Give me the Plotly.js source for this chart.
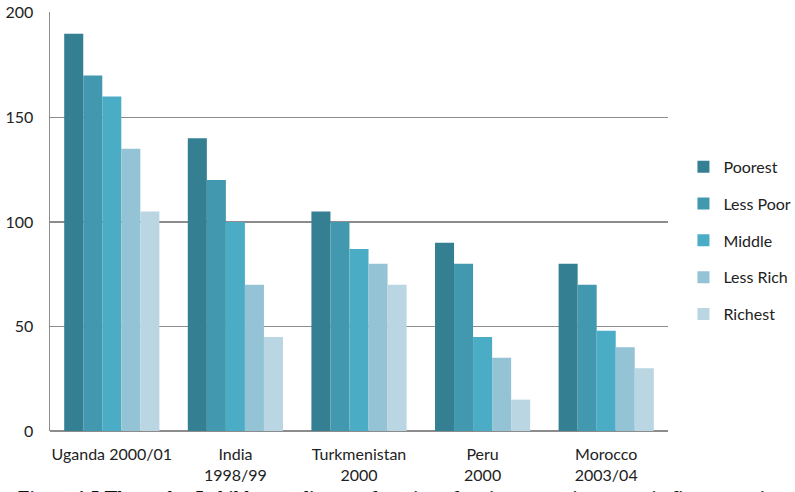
<!DOCTYPE html>
<html>
<head>
<meta charset="utf-8">
<script src="https://cdn.plot.ly/plotly-3.0.1.min.js"></script>
<style>
  html, body { margin: 0; padding: 0; background: #fff; overflow: hidden; }
  #chart { width: 795px; height: 492px; }
</style>
</head>
<body>
<div id="chart"></div>
<script>
// Under-5 child mortality by socio-economic group
const countries = ["Uganda 2000/01", "India<br>1998/99", "Turkmenistan<br>2000", "Peru<br>2000", "Morocco<br>2003/04"];
const groupNames = ["Poorest", "Less Poor", "Middle", "Less Rich", "Richest"];
const poorest  = [190, 140, 105, 90, 80];
const lessPoor = [170, 120, 100, 80, 70];
const middle   = [160, 100, 87, 45, 48];
const lessRich = [135, 70, 80, 35, 40];
const richest  = [105, 45, 70, 15, 30];
const yTicks = [0, 50, 100, 150, 200];

const series = [poorest, lessPoor, middle, lessRich, richest];
const colors = ["#357F93", "#4298AF", "#4BACC6", "#93C3D4", "#B9D6E2"];

const traces = series.map((vals, i) => ({
  type: "bar",
  name: groupNames[i],
  x: countries,
  y: vals,
  legendgroup: "g" + i,
  marker: { color: colors[i], line: { width: 0 } },
  hoverinfo: "x+y+name"
}));

const layout = {
  width: 795,
  height: 492,
  margin: { l: 50, r: 127, t: 12, b: 61, autoexpand: false },
  paper_bgcolor: "#ffffff",
  plot_bgcolor: "#ffffff",
  font: { family: "Lato, 'Open Sans', sans-serif", size: 16, color: "#222" },
  barmode: "group",
  bargap: 0.23,
  bargroupgap: 0,
  showlegend: true,
  legend: {
    x: 1.025, xanchor: "left",
    y: 0.455, yanchor: "middle",
    font: { size: 16, color: "#222" },
    tracegroupgap: 13,
    itemwidth: 30,
    bgcolor: "rgba(0,0,0,0)"
  },
  xaxis: {
    type: "category",
    showgrid: false,
    showline: false,
    zeroline: false,
    ticks: "",
    ticklabelstandoff: 12,
    tickfont: { size: 16, color: "#222" },
    tickangle: 0,
    fixedrange: true
  },
  yaxis: {
    range: [0, 200.4],
    tickvals: yTicks,
    ticktext: yTicks.map(String),
    showgrid: true,
    gridcolor: "#8c8c8c",
    gridwidth: 1.5,
    zeroline: true,
    zerolinecolor: "#8c8c8c",
    zerolinewidth: 1.5,
    showline: true,
    linecolor: "#8c8c8c",
    linewidth: 1.5,
    ticks: "",
    ticklabelstandoff: 12,
    tickfont: { size: 16, color: "#222" },
    fixedrange: true
  },
  annotations: [{
    xref: "paper", yref: "paper",
    x: -0.055, y: -0.128,
    xanchor: "left", yanchor: "top",
    showarrow: false,
    text: "<b>Figure 1.5 The under-5 child mortality as a function of socio-economic groups in five countries</b>",
    font: { family: "'Liberation Serif', 'DejaVu Serif', serif", size: 19, color: "#111" }
  }]
};

Plotly.newPlot("chart", traces, layout, { displayModeBar: false, staticPlot: true });
</script>
</body>
</html>
